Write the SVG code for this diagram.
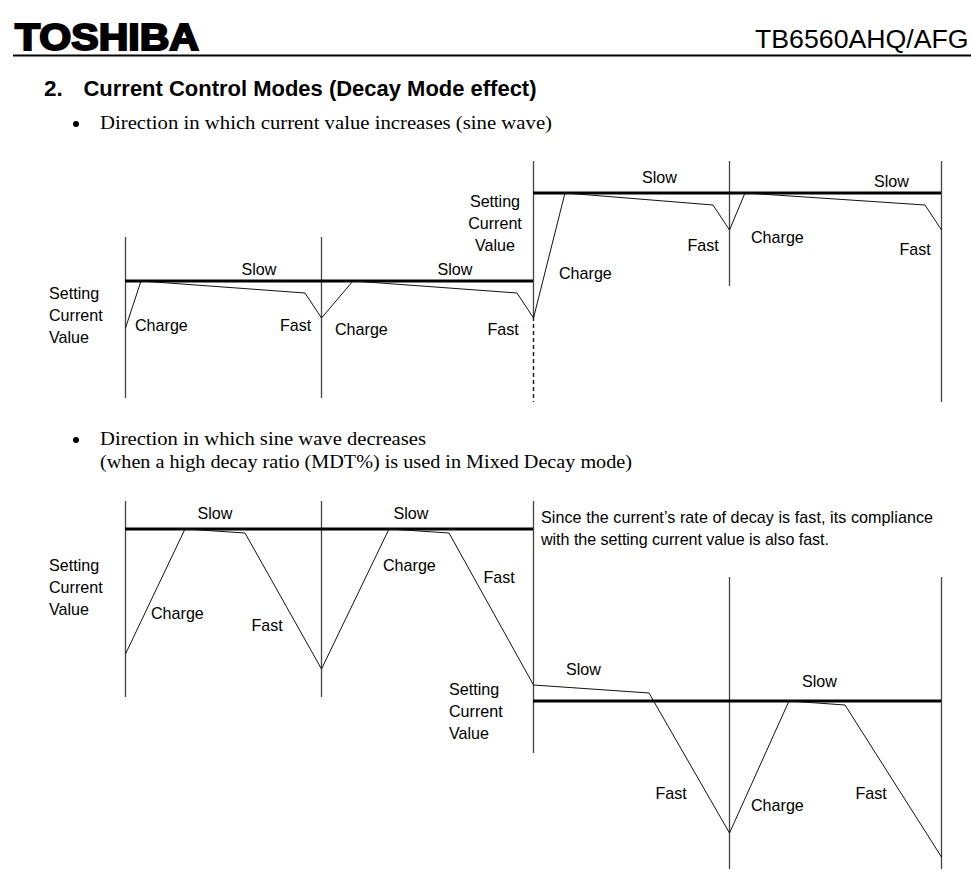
<svg xmlns="http://www.w3.org/2000/svg" width="971" height="885" viewBox="0 0 971 885">
<style>
text{font-family:"Liberation Sans",Arial,sans-serif;fill:#000}
.l{font-size:16.100px}
.s{font-family:"Liberation Serif","Times New Roman",serif;font-size:19.500px}
.axis{stroke:#444;stroke-width:1.3;fill:none}
.dash{stroke:#222;stroke-width:1.5;fill:none;stroke-dasharray:4 3}
.thick{stroke:#000;stroke-width:3;fill:none}
.wave{stroke:#111;stroke-width:1;fill:none}
</style>
<rect width="971" height="885" fill="#fff"/>
<g id="header">
<text x="15" y="49.500" font-size="36" font-weight="bold" stroke="#000" stroke-width="2" textLength="184" lengthAdjust="spacingAndGlyphs">TOSHIBA</text>
<text x="755" y="48" font-size="26.700">TB6560AHQ/AFG</text>
<line x1="13" y1="55.500" x2="971" y2="55.500" stroke="#000" stroke-width="2"/>
</g>
<g id="title">
<text x="44" y="96" font-size="22.500" font-weight="bold">2.</text>
<text x="83.500" y="96" font-size="22.500" font-weight="bold" textLength="453" lengthAdjust="spacingAndGlyphs">Current Control Modes (Decay Mode effect)</text>
</g>
<g id="bullets">
<circle cx="76" cy="124" r="3" fill="#000"/>
<text class="s" x="100" y="129" textLength="452" lengthAdjust="spacingAndGlyphs">Direction in which current value increases (sine wave)</text>
<circle cx="76" cy="440" r="3" fill="#000"/>
<text class="s" x="100" y="445" textLength="326" lengthAdjust="spacingAndGlyphs">Direction in which sine wave decreases</text>
<text class="s" x="100" y="468" textLength="532" lengthAdjust="spacingAndGlyphs">(when a high decay ratio (MDT%) is used in Mixed Decay mode)</text>
</g>
<g id="connectors">
<path class="axis" d="M125.500 237V398M321.500 237V398M533.500 161V317M729.500 161V286M941.500 161V402"/>
<path class="dash" d="M533.500 317V402"/>
<path class="thick" d="M125 281H533M533 193H941"/>
<path class="wave" d="M125.500 328L141 281L305 293L321.500 318L353 281L517 293L533.500 318L565 193L713 205L729.500 230L745 193L925 205L941.500 230"/>
<path class="axis" d="M125.500 501V697M321.500 501V697M533.500 501V753M729.500 577V869M941.500 577V869"/>
<path class="thick" d="M125 529H533M533 701H941"/>
<path class="wave" d="M125.500 654L185 529L245 533L321.500 669L389 529L449 533L533.500 685L649 693L729.500 833L789 701L845 705L941.500 857"/>
</g>
<g id="labels-top-left">
<text class="l" x="49" y="299">Setting</text>
<text class="l" x="49" y="321">Current</text>
<text class="l" x="49" y="343">Value</text>
<text class="l" x="241.500" y="275">Slow</text>
<text class="l" x="135" y="331">Charge</text>
<text class="l" x="280" y="331">Fast</text>
<text class="l" x="437.500" y="275">Slow</text>
<text class="l" x="335" y="335">Charge</text>
<text class="l" x="487.500" y="335">Fast</text>
</g>
<g id="labels-top-right">
<text class="l" x="495" y="207" text-anchor="middle">Setting</text>
<text class="l" x="495" y="229" text-anchor="middle">Current</text>
<text class="l" x="495" y="251" text-anchor="middle">Value</text>
<text class="l" x="642" y="183">Slow</text>
<text class="l" x="559" y="279">Charge</text>
<text class="l" x="687.500" y="251">Fast</text>
<text class="l" x="751" y="243">Charge</text>
<text class="l" x="874" y="187">Slow</text>
<text class="l" x="899.500" y="255">Fast</text>
</g>
<g id="labels-bottom-left">
<text class="l" x="49" y="571">Setting</text>
<text class="l" x="49" y="593">Current</text>
<text class="l" x="49" y="615">Value</text>
<text class="l" x="197.500" y="519">Slow</text>
<text class="l" x="151" y="619">Charge</text>
<text class="l" x="251.500" y="631">Fast</text>
<text class="l" x="393.500" y="519">Slow</text>
<text class="l" x="383" y="571">Charge</text>
<text class="l" x="483.500" y="583">Fast</text>
</g>
<g id="labels-bottom-right">
<text class="l" x="541" y="523" textLength="392">Since the current’s rate of decay is fast, its compliance</text>
<text class="l" x="541" y="545" textLength="288">with the setting current value is also fast.</text>
<text class="l" x="449" y="695">Setting</text>
<text class="l" x="449" y="717">Current</text>
<text class="l" x="449" y="739">Value</text>
<text class="l" x="566" y="675">Slow</text>
<text class="l" x="655.500" y="799">Fast</text>
<text class="l" x="751" y="811">Charge</text>
<text class="l" x="802" y="687">Slow</text>
<text class="l" x="855.500" y="799">Fast</text>
</g>
</svg>
